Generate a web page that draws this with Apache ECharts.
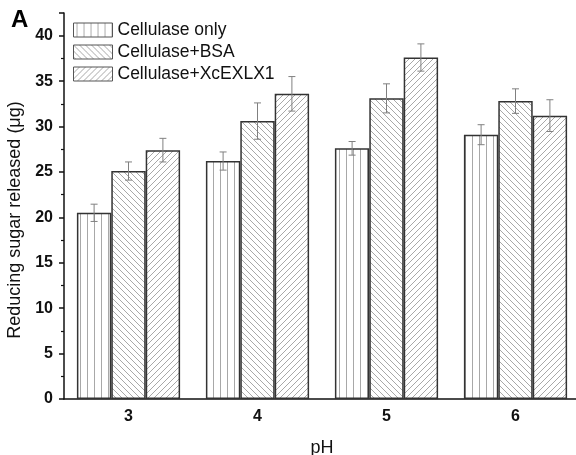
<!DOCTYPE html>
<html>
<head>
<meta charset="utf-8">
<script src="https://cdn.jsdelivr.net/npm/echarts@6/dist/echarts.min.js"></script>
<style>
  html, body { margin: 0; padding: 0; background: #fff; }
  #chart { width: 576px; height: 455px; }
  #tag { position: absolute; left: 11px; top: 5px; font: bold 24px "Liberation Sans", Arial, sans-serif; }
</style>
</head>
<body>
<div id="chart"></div>
<div id="tag">A</div>
<script>
// pH values on the x axis
const categories = ['3', '4', '5', '6'];
const seriesNames = ['Cellulase only', 'Cellulase+BSA', 'Cellulase+XcEXLX1'];
// reducing sugar released (μg)
const cellulaseOnly = [20.5, 26.2, 27.6, 29.1];
const cellulaseBSA = [25.1, 30.6, 33.1, 32.8];
const cellulaseXc = [27.4, 33.6, 37.6, 31.2];
// standard deviations for error bars
const errOnly = [0.95, 1.0, 0.75, 1.1];
const errBSA = [1.0, 2.0, 1.6, 1.35];
const errXc = [1.3, 1.9, 1.5, 1.75];

const values = [cellulaseOnly, cellulaseBSA, cellulaseXc];
const errors = [errOnly, errBSA, errXc];

// hatch fills
function hatch(kind) {
    const c = document.createElement('canvas');
    const s = kind === 'v' ? 7 : 6;
    c.width = s; c.height = s;
    const ctx = c.getContext('2d');
    ctx.fillStyle = '#fff';
    ctx.fillRect(0, 0, s, s);
    ctx.strokeStyle = '#a8a8a8';
    ctx.lineWidth = 1;
    ctx.beginPath();
    if (kind === 'v') {
        ctx.moveTo(3.5, 0); ctx.lineTo(3.5, s);
    } else if (kind === 'b') {
        ctx.moveTo(-1, -1); ctx.lineTo(s + 1, s + 1);
        ctx.moveTo(-1, s - 1); ctx.lineTo(1, s + 1);
        ctx.moveTo(s - 1, -1); ctx.lineTo(s + 1, 1);
    } else {
        ctx.moveTo(-1, s + 1); ctx.lineTo(s + 1, -1);
        ctx.moveTo(-1, 1); ctx.lineTo(1, -1);
        ctx.moveTo(s - 1, s + 1); ctx.lineTo(s + 1, s - 1);
    }
    ctx.stroke();
    return { image: c, repeat: 'repeat' };
}
const fills = [hatch('v'), hatch('b'), hatch('f')];

const chart = echarts.init(document.getElementById('chart'));
const font = '"Liberation Sans", Arial, sans-serif';

const barSeries = seriesNames.map((name, i) => ({
    name: name,
    type: 'bar',
    data: values[i],
    barGap: '0%',
    barCategoryGap: '20%',
    itemStyle: { color: fills[i], borderColor: '#333', borderWidth: 1.5 },
    emphasis: { disabled: true }
}));

const errSeries = seriesNames.map((name, i) => ({
    type: 'custom',
    name: name + ' err',
    z: 5,
    data: categories.map((c, j) => [j, values[i][j] - errors[i][j], values[i][j] + errors[i][j]]),
    renderItem: function (params, api) {
        const band = api.size([1, 0])[0];
        const bw = band * 0.8 / 3;
        const off = (i - 1) * bw;
        const lo = api.coord([api.value(0), api.value(1)]);
        const hi = api.coord([api.value(0), api.value(2)]);
        const x = lo[0] + off;
        const cap = 3.5;
        const st = { stroke: '#808080', lineWidth: 1 };
        return {
            type: 'group',
            children: [
                { type: 'line', shape: { x1: x, y1: lo[1], x2: x, y2: hi[1] }, style: st },
                { type: 'line', shape: { x1: x - cap, y1: lo[1], x2: x + cap, y2: lo[1] }, style: st },
                { type: 'line', shape: { x1: x - cap, y1: hi[1], x2: x + cap, y2: hi[1] }, style: st }
            ]
        };
    }
}));

chart.setOption({
    animation: false,
    grid: { left: 64, top: 13, width: 516, bottom: 56, outerBoundsMode: 'none', containLabel: false },
    legend: {
        orient: 'vertical',
        left: 68,
        top: 15,
        icon: 'rect',
        itemWidth: 39,
        itemHeight: 14,
        itemGap: 2,
        data: seriesNames,
        itemStyle: { borderColor: '#555', borderWidth: 1 },
        textStyle: { fontFamily: font, fontSize: 17.5, lineHeight: 20, color: '#111' },
        selectedMode: false
    },
    xAxis: [{
        type: 'category',
        data: categories,
        name: 'pH',
        nameLocation: 'middle',
        nameGap: 40,
        nameTextStyle: { fontFamily: font, fontSize: 18, color: '#111' },
        axisLine: { lineStyle: { color: '#111', width: 1.5 } },
        axisTick: { alignWithLabel: true, length: 5, lineStyle: { color: '#111', width: 1.5 } },
        axisLabel: { fontFamily: font, fontSize: 16, fontWeight: 'bold', color: '#111', margin: 10 }
    }, {
        type: 'category',
        data: categories,
        position: 'bottom',
        axisLine: { show: false },
        axisTick: { length: 2, lineStyle: { color: '#111', width: 1.5 } },
        axisLabel: { show: false }
    }],
    yAxis: {
        type: 'value',
        min: 0,
        max: 42.5,
        interval: 5,
        name: 'Reducing sugar released (μg)',
        nameLocation: 'middle',
        nameGap: 22,
        nameTextStyle: { fontFamily: font, fontSize: 18, color: '#111', padding: [0, 28, 0, 0] },
        axisLine: { show: true, lineStyle: { color: '#111', width: 1.5 } },
        axisTick: { show: true, length: 5, lineStyle: { color: '#111', width: 1.5 } },
        minorTick: { show: true, splitNumber: 2, length: 3, lineStyle: { color: '#111', width: 1.2 } },
        splitLine: { show: false },
        axisLabel: { fontFamily: font, fontSize: 16, fontWeight: 'bold', color: '#111', margin: 11, showMaxLabel: false }
    },
    series: barSeries.concat(errSeries)
});
</script>
</body>
</html>
